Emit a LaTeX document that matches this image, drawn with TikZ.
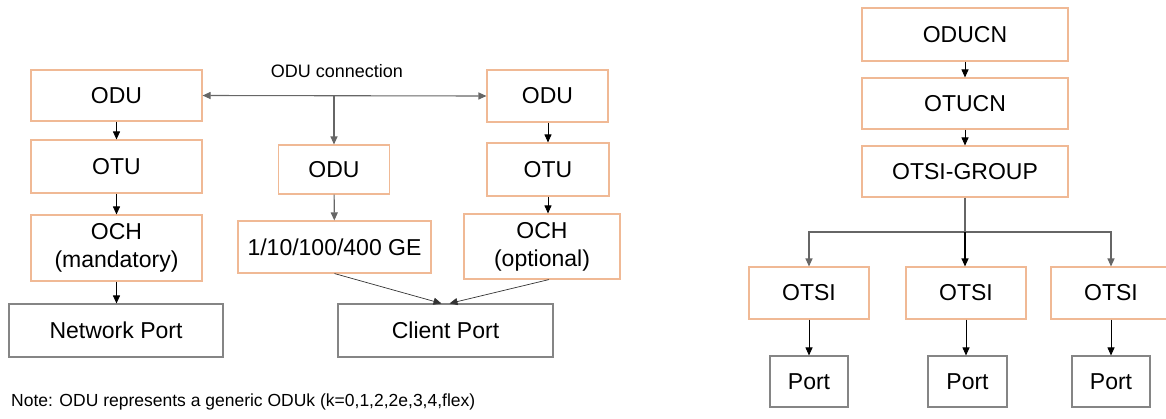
\documentclass[tikz,border=0pt]{standalone}
\usepackage{fontspec}
\setmainfont{Liberation Sans}
\usetikzlibrary{arrows.meta}
\definecolor{layerline}{HTML}{F0B995}
\definecolor{portline}{HTML}{858585}
\definecolor{linkgray}{HTML}{666666}
\tikzset{
  layer/.style={draw=layerline, line width=1.1pt, inner sep=0pt, align=center,
    font=\fontsize{23}{28}\selectfont},
  portbox/.style={draw=portline, line width=1.1pt, inner sep=0pt, align=center,
    font=\fontsize{23}{28}\selectfont},
  down/.style={-{Triangle[length=8pt,width=7pt]}, line width=0.9pt, draw=black},
  graylink/.style={-{Triangle[length=8pt,width=7pt]}, line width=1.1pt, draw=linkgray},
  thinlink/.style={-{Triangle[length=8pt,width=7pt]}, line width=0.7pt, draw=black!80},
}
\begin{document}
\begin{tikzpicture}[x=1pt, y=-1pt]
\useasboundingbox (0,0) rectangle (1166,418);

% network side column
\node[layer, minimum width=171pt, minimum height=51pt] (lodu) at (116.5,95.5) {ODU};
\node[layer, minimum width=171pt, minimum height=53pt] (lotu) at (116.5,166.5) {OTU};
\node[layer, minimum width=171pt, minimum height=66pt] (loch) at (116.5,248) {OCH\\(mandatory)};
\node[portbox, minimum width=214pt, minimum height=53pt] (netport) at (116,330.5) {Network Port};

% client side column
\node[layer, minimum width=111pt, minimum height=49pt] (modu) at (334,169.5) {ODU};
\node[layer, minimum width=193pt, minimum height=52pt] (ge) at (334.5,247) {1/10/100/400 GE};
\node[portbox, minimum width=215pt, minimum height=53pt] (client) at (445.5,330.5) {Client Port};

% optional line column
\node[layer, minimum width=121pt, minimum height=52pt] (rodu) at (547.5,96) {ODU};
\node[layer, minimum width=122pt, minimum height=53pt] (rotu) at (548,169.5) {OTU};
\node[layer, minimum width=156pt, minimum height=65pt] (roch) at (542,246.5) {OCH\\(optional)};

% ODU connection
\node[font=\fontsize{18}{22}\selectfont] (conn) at (337,71) {ODU connection};
\coordinate (split) at (334,95.5);
\draw[graylink, {Triangle[length=8pt,width=7pt]}-{Triangle[length=8pt,width=7pt]}] (lodu.east) -- (rodu.west);
\draw[graylink] (split) -- (modu.north);

\draw[down] (lodu) -- (lotu);
\draw[down] (lotu) -- (loch);
\draw[down] (loch) -- (netport.north -| loch.south);
\draw[graylink] (modu) -- (ge);
\draw[down] (rodu.south -| rotu.south) -- (rotu);
\draw[down] (rotu.south) -- (roch.north -| rotu.south);
\draw[thinlink] (ge.south) -- ([xshift=-4pt]client.north);
\draw[thinlink] ([xshift=7pt]roch.south) -- ([xshift=4pt]client.north);

% ODUCn stack
\node[layer, minimum width=206pt, minimum height=53pt] (oducn) at (965,34.5) {ODUCN};
\node[layer, minimum width=206pt, minimum height=51pt] (otucn) at (965,103.5) {OTUCN};
\node[layer, minimum width=206pt, minimum height=51pt] (otsig) at (965,171.5) {OTSI-GROUP};
\draw[down] (oducn) -- (otucn);
\draw[down] (otucn) -- (otsig);

\node[layer, minimum width=120pt, minimum height=52pt] (otsi1) at (809,293) {OTSI};
\node[layer, minimum width=120pt, minimum height=52pt] (otsi2) at (966,293) {OTSI};
\node[layer, minimum width=120pt, minimum height=52pt] (otsi3) at (1111,293) {OTSI};

\node[portbox, minimum width=78pt, minimum height=51pt] (port1) at (809,381.5) {Port};
\node[portbox, minimum width=79pt, minimum height=51pt] (port2) at (967.5,381.5) {Port};
\node[portbox, minimum width=78pt, minimum height=51pt] (port3) at (1111,381.5) {Port};

% fan-out from the group to its members
\coordinate (fan) at (965,232);
\draw[line width=1.1pt, draw=linkgray] (otsig.south) -- (fan);
\draw[graylink] (fan) -| (otsi1.north);
\draw[graylink] (fan) -| (otsi3.north);
\draw[down, line width=1.1pt] (fan) -- (otsi2.north -| fan);

\draw[down] (otsi1) -- (port1);
\draw[down] (otsi2.south) -- (port2.north -| otsi2.south);
\draw[down] (otsi3) -- (port3);

% footnote
\node[anchor=west, font=\fontsize{17.5}{21}\selectfont, inner sep=0pt] (note) at (11,402)
  {Note: ODU represents a generic ODUk (k=0,1,2,2e,3,4,flex)};
\end{tikzpicture}
\end{document}
